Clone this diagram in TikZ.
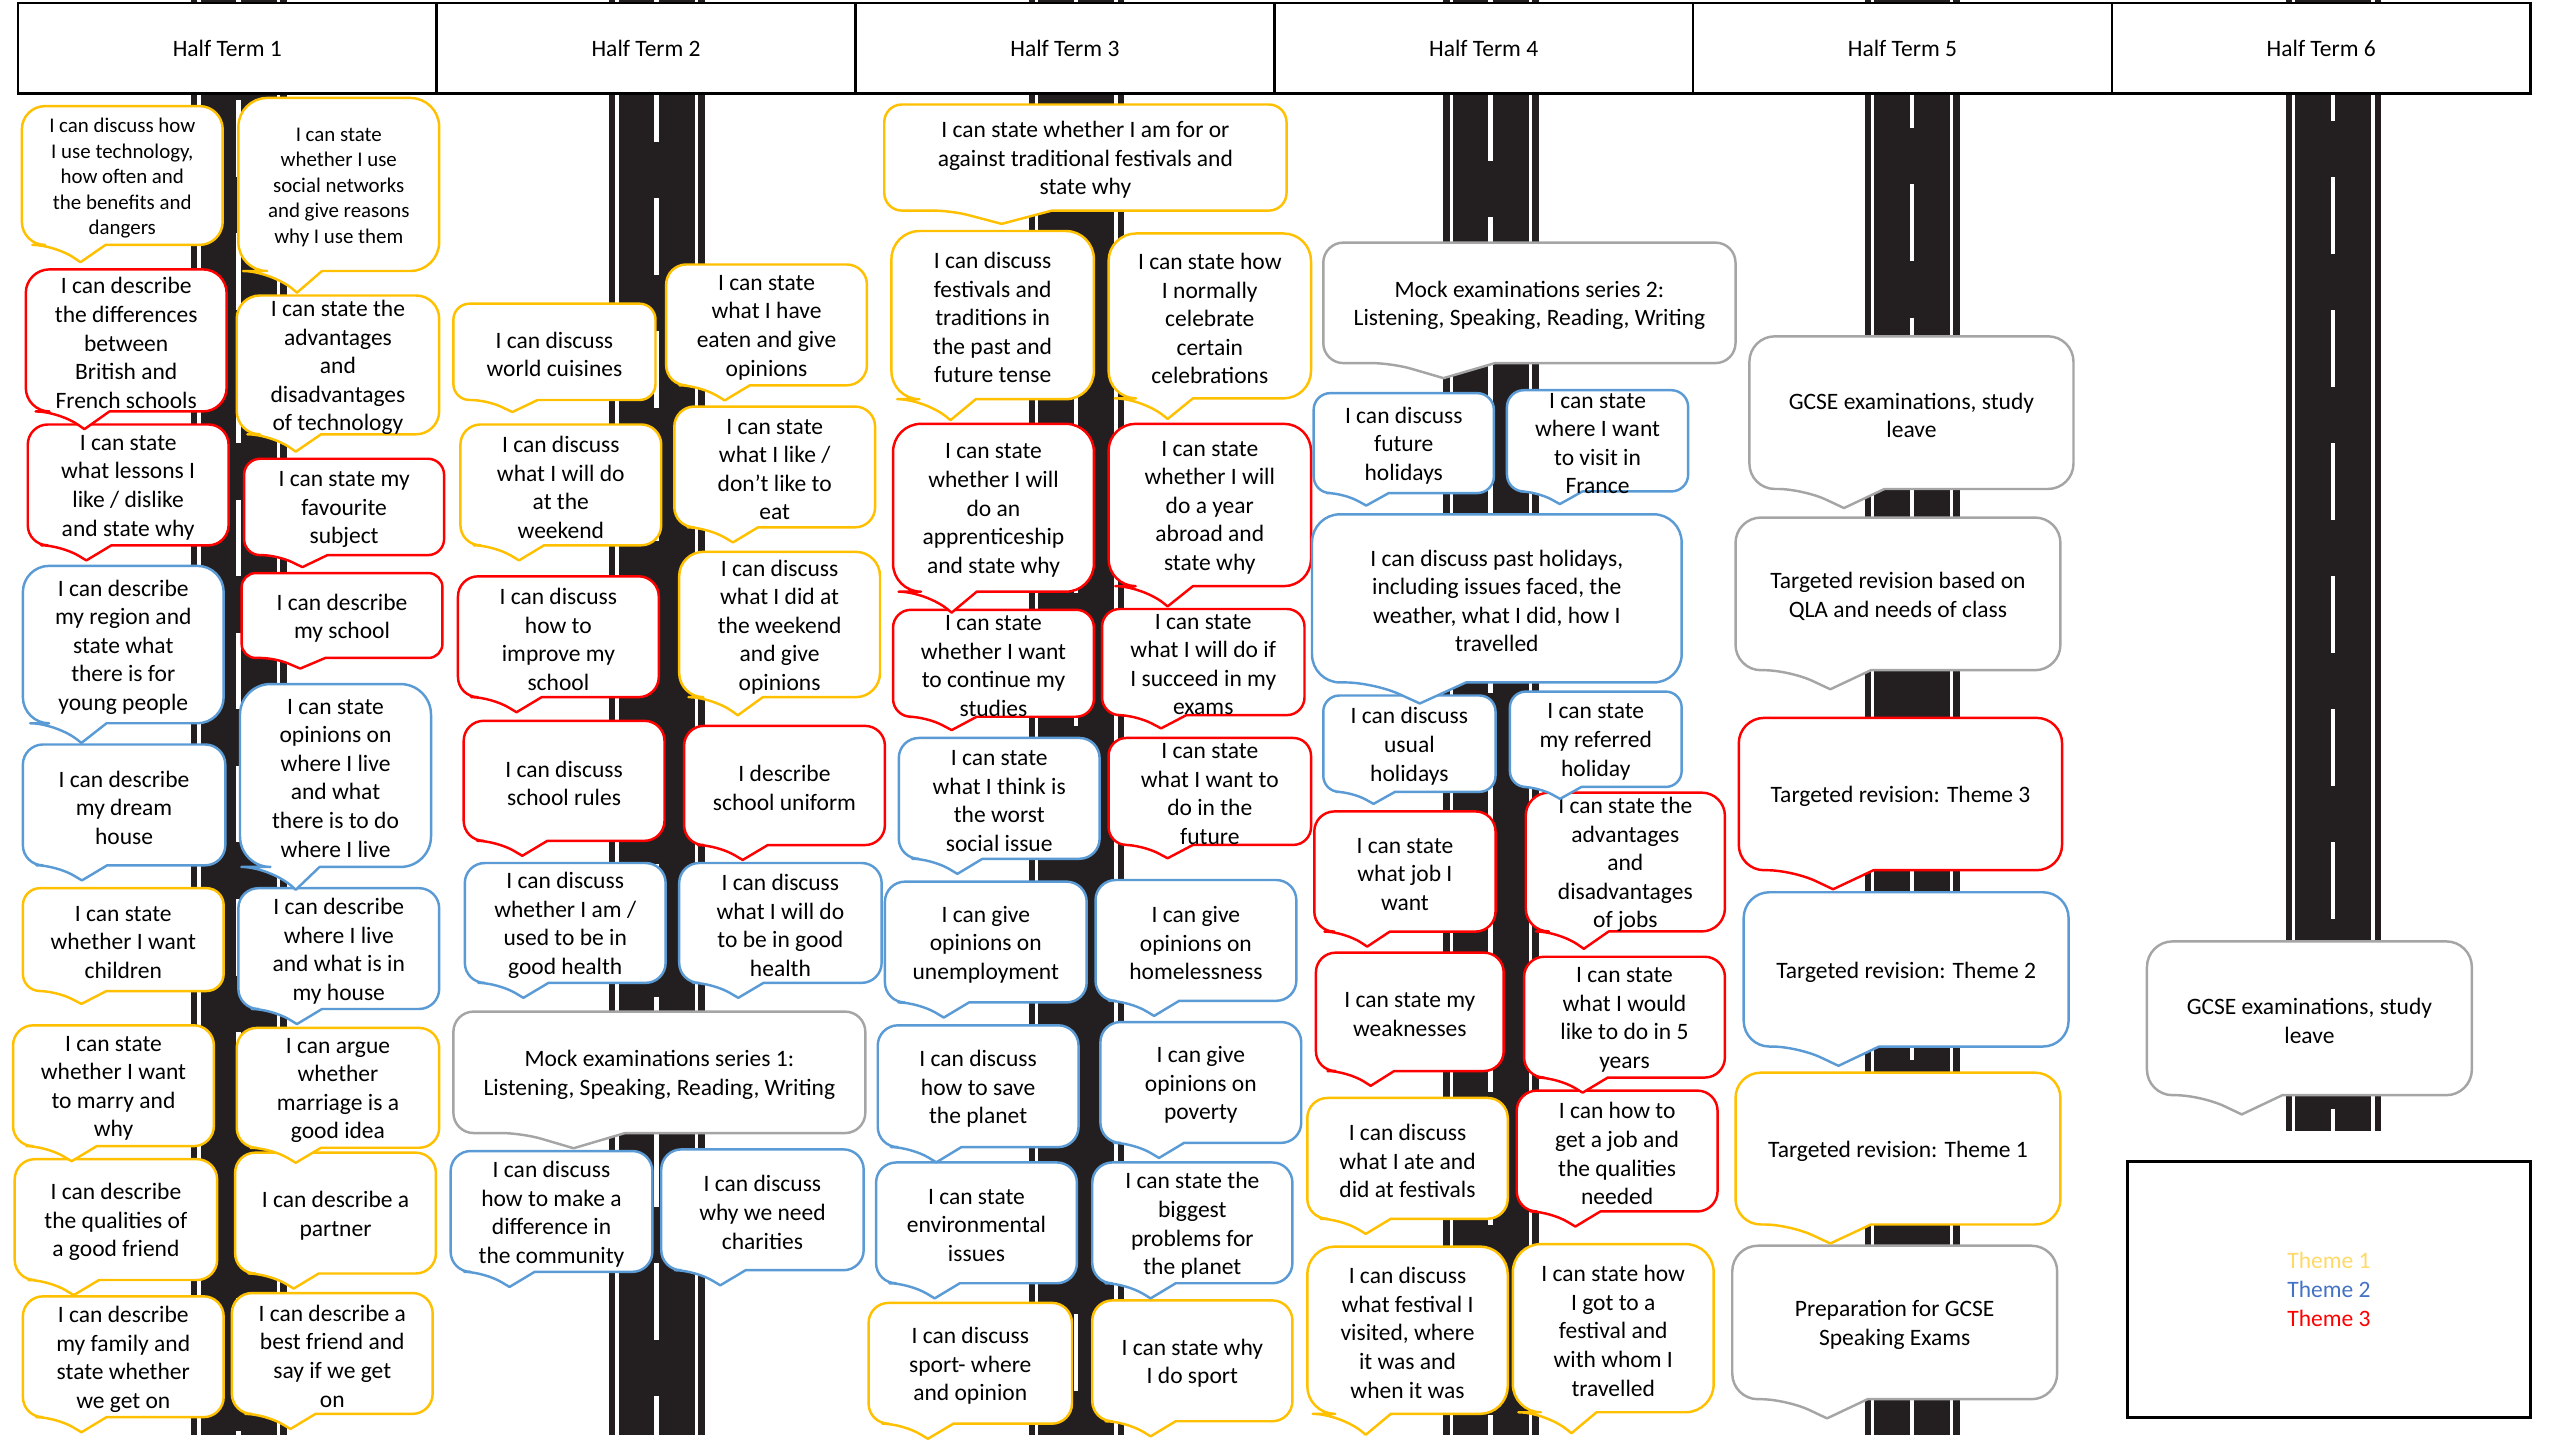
\documentclass[tikz,border=0pt]{standalone}
\usepackage{fontspec}
\setmainfont{Carlito}

\definecolor{bubyellow}{HTML}{FFC000}
\definecolor{bubblue}{HTML}{5B9BD5}
\definecolor{bubred}{HTML}{FF0000}
\definecolor{bubgrey}{HTML}{A5A5A5}
\definecolor{roadblack}{HTML}{231F20}
\definecolor{themeone}{HTML}{FFD966}
\definecolor{themetwo}{HTML}{4472C4}
\definecolor{themethree}{HTML}{FF0000}

\tikzset{
  bubline/.style={fill=white, line width=1.5pt, line join=round},
  bubtext/.style={align=center, inner sep=0pt, yshift=-1.6pt, font=\fontsize{14.4}{17.5}\selectfont},
  smalltext/.style={bubtext, font=\fontsize{12.8}{15.6}\selectfont},
  termbox/.style={draw, fill=white, line width=1.6pt, minimum width=256.5pt,
    minimum height=55.5pt, font=\fontsize{14.4}{17.5}\selectfont},
  edgeline/.style={white, line width=2pt},
  centreline/.style={white, line width=2.8pt, dash pattern=on 47pt off 34.5pt},
}

% speech bubble: [text style]{name}{colour}{left}{top}{width}{height}{text}
\newcommand{\bubble}[8][bubtext]{%
  \pgfmathsetmacro\bx{#4}\pgfmathsetmacro\by{#5}%
  \pgfmathsetmacro\bw{#6}\pgfmathsetmacro\bh{#7}%
  \pgfmathsetmacro\br{min(\bw,\bh)/6}%
  \draw[bubline, draw=#3, rounded corners=\br pt]
    (\bx+5*\bw/12,\by+\bh) -- (\bx+\bw,\by+\bh) -- (\bx+\bw,\by) -- (\bx,\by)
    -- (\bx,\by+\bh) -- (\bx+\bw/6,\by+\bh)
    [sharp corners] -- (\bx+0.2917*\bw,\by+1.125*\bh) -- cycle;
  \node[#1] (#2) at (\bx+\bw/2,\by+\bh/2) {#8};
}

\begin{document}
\begin{tikzpicture}[x=1pt, y=-1pt]
\useasboundingbox (0,0) rectangle (1568,882);

% roads
\foreach \lx/\bot/\ph in {117/879/20, 373/879/41.5, 630/879/10, 884/879/30, 1142/879/50, 1400/693/54.5}{
  \fill[roadblack] (\lx,0) rectangle ++(58.6,\bot);
  \draw[edgeline] (\lx+4.9,0) -- ++(0,\bot);
  \draw[edgeline] (\lx+53.5,0) -- ++(0,\bot);
  \draw[centreline, dash phase=\ph pt] (\lx+29,0) -- ++(0,\bot);
}

% header
\foreach \i in {1,...,6}
  \node[termbox] (ht\i) at ({11+256.5*(\i-0.5)},29.5) {Half Term \i};

% Half Term 1 (drawn bottom first, so upper pointers lie on top)
\bubble{family}{bubyellow}{14}{794}{123}{74}{I can describe\\my family and\\state whether\\we get on}
\bubble{quality}{bubyellow}{9}{710}{124}{74}{I can describe\\the qualities of\\a good friend}
\bubble{marry}{bubyellow}{8}{628}{123}{74}{I can state\\whether I want\\to marry and\\why}
\bubble{children}{bubyellow}{14}{544}{123}{63}{I can state\\whether I want\\children}
\bubble{dream}{bubblue}{14}{456}{124}{74}{I can describe\\my dream\\house}
\bubble{region}{bubblue}{14}{346.6}{123}{96.4}{I can describe\\my region and\\state what\\there is for\\young people}
\bubble{lessons}{bubred}{17}{260}{123}{74}{I can state\\what lessons I\\like / dislike\\and state why}
\bubble{schdiff}{bubred}{15.8}{165}{123}{87}{I can describe\\the differences\\between\\British and\\French schools}
\bubble[smalltext]{tech}{bubyellow}{13.4}{65}{123}{85}{I can discuss how\\I use technology,\\how often and\\the benefits and\\dangers}

\bubble{bestfr}{bubyellow}{142}{792}{123}{74}{I can describe a\\best friend and\\say if we get\\on}
\bubble{partner}{bubyellow}{144}{706}{123}{74}{I can describe a\\partner}
\bubble{argue}{bubyellow}{145}{629.6}{124}{73.4}{I can argue\\whether\\marriage is a\\good idea}
\bubble{house}{bubblue}{146}{544}{123}{74}{I can describe\\where I live\\and what is in\\my house}
\bubble{live}{bubblue}{147}{419}{117}{112}{I can state\\opinions on\\where I live\\and what\\there is to do\\where I live}
\bubble{myschool}{bubred}{148}{351}{123}{52}{I can describe\\my school}
\bubble{subject}{bubred}{149.5}{281}{122.5}{59}{I can state my\\favourite\\subject}
\bubble{techpro}{bubyellow}{145}{181}{124}{85}{I can state the\\advantages\\and\\disadvantages\\of technology}
\bubble[smalltext]{socnet}{bubyellow}{146}{60}{123}{106}{I can state\\whether I use\\social networks\\and give reasons\\why I use them}

% Half Term 2
\bubble{community}{bubblue}{276}{705}{123.6}{74}{I can discuss\\how to make a\\difference in\\the community}
\bubble{charity}{bubblue}{405}{704}{124}{74}{I can discuss\\why we need\\charities}
\bubble{mockone}{bubgrey}{277.7}{619.6}{252.3}{74.4}{Mock examinations series 1:\\Listening, Speaking, Reading, Writing}
\bubble{health}{bubblue}{284.7}{528.6}{123}{73.4}{I can discuss\\whether I am /\\used to be in\\good health}
\bubble{goodhealth}{bubblue}{416}{528.6}{124}{73.4}{I can discuss\\what I will do\\to be in good\\health}
\bubble{rules}{bubred}{284}{441.5}{123}{73.5}{I can discuss\\school rules}
\bubble{uniform}{bubred}{419}{444.6}{123}{73}{I describe\\school uniform}
\bubble{improve}{bubred}{280.5}{353}{123}{74}{I can discuss\\how to\\improve my\\school}
\bubble{didweekend}{bubyellow}{416}{338}{123}{89}{I can discuss\\what I did at\\the weekend\\and give\\opinions}
\bubble{weekend}{bubyellow}{282}{260}{123}{74}{I can discuss\\what I will do\\at the\\weekend}
\bubble{likeeat}{bubyellow}{413}{249}{123}{74}{I can state\\what I like /\\don’t like to\\eat}
\bubble{cuisine}{bubyellow}{277.7}{186}{123.8}{59}{I can discuss\\world cuisines}
\bubble{eaten}{bubyellow}{408}{162}{123}{74}{I can state\\what I have\\eaten and give\\opinions}

% Half Term 3
\bubble{sportwhy}{bubyellow}{669}{796.5}{122.6}{74}{I can state why\\I do sport}
\bubble{sport}{bubyellow}{532}{798}{124.6}{74}{I can discuss\\sport- where\\and opinion}
\bubble{problems}{bubblue}{669}{712}{122.6}{74}{I can state the\\biggest\\problems for\\the planet}
\bubble{environ}{bubblue}{536.6}{712}{123}{74}{I can state\\environmental\\issues}
\bubble{poverty}{bubblue}{674}{626}{123}{74}{I can give\\opinions on\\poverty}
\bubble{planet}{bubblue}{537.6}{628}{123}{74.6}{I can discuss\\how to save\\the planet}
\bubble{homeless}{bubblue}{671}{539}{123}{74}{I can give\\opinions on\\homelessness}
\bubble{unemploy}{bubblue}{542}{540}{123.6}{74}{I can give\\opinions on\\unemployment}
\bubble{future}{bubred}{679}{452}{124}{65.5}{I can state\\what I want to\\do in the\\future}
\bubble{worst}{bubblue}{550.5}{452}{123}{74}{I can state\\what I think is\\the worst\\social issue}
\bubble{succeed}{bubred}{675}{373}{124}{65}{I can state\\what I will do if\\I succeed in my\\exams}
\bubble{studies}{bubred}{547}{373.5}{123}{65.5}{I can state\\whether I want\\to continue my\\studies}
\bubble{abroad}{bubred}{679}{259.6}{124}{99.4}{I can state\\whether I will\\do a year\\abroad and\\state why}
\bubble{apprentice}{bubred}{547}{259.6}{123}{102.8}{I can state\\whether I will\\do an\\apprenticeship\\and state why}
\bubble{celebrate}{bubyellow}{679}{143}{124}{101}{I can state how\\I normally\\celebrate\\certain\\celebrations}
\bubble{traditions}{bubyellow}{546}{141.5}{124}{103}{I can discuss\\festivals and\\traditions in\\the past and\\future tense}
\bubble{festivals}{bubyellow}{541.6}{64}{246.4}{65}{I can state whether I am for or\\against traditional festivals and\\state why}

% Half Term 4
\bubble{travelled}{bubyellow}{926.6}{762}{123}{103}{I can state how\\I got to a\\festival and\\with whom I\\travelled}
\bubble{visited}{bubyellow}{800.7}{763.5}{122.8}{102.5}{I can discuss\\what festival I\\visited, where\\it was and\\when it was}
\bubble{getjob}{bubred}{929}{668}{123}{74}{I can how to\\get a job and\\the qualities\\needed}
\bubble{ate}{bubyellow}{800.7}{672.5}{122.8}{74}{I can discuss\\what I ate and\\did at festivals}
\bubble{fiveyears}{bubred}{933.5}{586}{123}{74}{I can state\\what I would\\like to do in 5\\years}
\bubble{weak}{bubred}{806}{583.5}{115}{72.5}{I can state my\\weaknesses}
\bubble{jobs}{bubred}{934.5}{485.5}{122}{85}{I can state the\\advantages\\and\\disadvantages\\of jobs}
\bubble{whatjob}{bubred}{805}{497}{111}{73.6}{I can state\\what job I\\want}
\bubble{referred}{bubblue}{924.8}{423.6}{105.2}{58.4}{I can state\\my referred\\holiday}
\bubble{usual}{bubblue}{810.5}{426}{105.5}{59}{I can discuss\\usual\\holidays}
\bubble{past}{bubblue}{803.6}{315}{226.4}{103}{I can discuss past holidays,\\including issues faced, the\\weather, what I did, how I\\travelled}
\bubble{france}{bubblue}{923}{239}{111}{62}{I can state\\where I want\\to visit in\\France}
\bubble{futurehol}{bubblue}{804.6}{240.8}{110.4}{61.2}{I can discuss\\future\\holidays}
\bubble{mocktwo}{bubgrey}{810.5}{148.6}{252.5}{73.8}{Mock examinations series 2:\\Listening, Speaking, Reading, Writing}

% Half Term 5
\bubble{speaking}{bubgrey}{1061}{763}{199}{94}{Preparation for GCSE\\Speaking Exams}
\bubble{revone}{bubyellow}{1063}{657}{199}{93}{Targeted revision: Theme 1}
\bubble{revtwo}{bubblue}{1068}{546.5}{199}{94.5}{Targeted revision: Theme 2}
\bubble{revthree}{bubred}{1065}{439.7}{198}{93.3}{Targeted revision: Theme 3}
\bubble{qla}{bubgrey}{1063}{317}{199}{93.5}{Targeted revision based on\\QLA and needs of class}
\bubble{gcsefive}{bubgrey}{1071.5}{206}{198.5}{93.5}{GCSE examinations, study\\leave}

% Half Term 6
\bubble{gcsesix}{bubgrey}{1315}{576.6}{199}{94.2}{GCSE examinations, study\\leave}

\node[draw, line width=2pt, minimum width=247pt, minimum height=156.5pt, align=center,
  font=\fontsize{14.4}{17.5}\selectfont] (legend) at (1426.5,789.75)
  {\textcolor{themeone}{Theme 1}\\\textcolor{themetwo}{Theme 2}\\\textcolor{themethree}{Theme 3}};

\end{tikzpicture}
\end{document}
